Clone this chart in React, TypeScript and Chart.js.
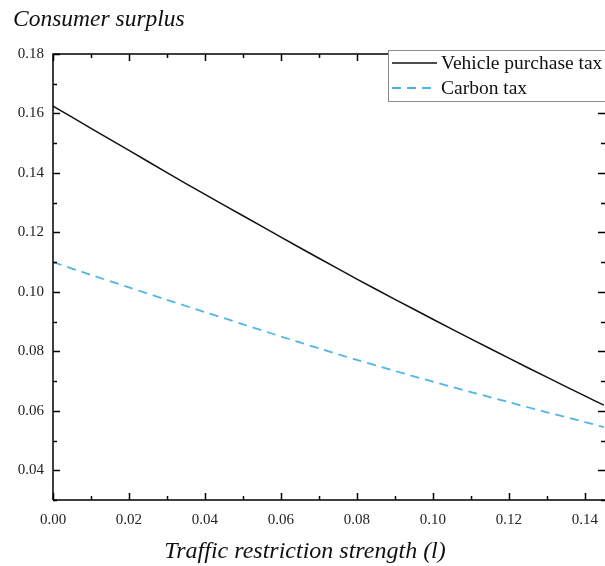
import React, { useEffect, useRef } from "react";
import { Chart, registerables } from "chart.js";

Chart.register(...registerables);

const xValues = [0, 0.01, 0.02, 0.03, 0.04, 0.05, 0.06, 0.07, 0.08, 0.09, 0.1, 0.11, 0.12, 0.13, 0.14, 0.145];
const vehicleTax = [0.1625, 0.155, 0.1476, 0.1401, 0.1328, 0.1256, 0.1184, 0.1113, 0.1043, 0.0975, 0.0908, 0.0842, 0.0777, 0.0713, 0.065, 0.0619];
const carbonTax = [0.11, 0.1057, 0.1015, 0.0973, 0.0932, 0.0891, 0.085, 0.081, 0.0771, 0.0734, 0.0698, 0.0663, 0.0629, 0.0595, 0.0562, 0.0545];

const xTickValues = [0, 0.02, 0.04, 0.06, 0.08, 0.1, 0.12, 0.14];
const yTickValues = [0.04, 0.06, 0.08, 0.1, 0.12, 0.14, 0.16, 0.18];

const seriesLabels = ["Vehicle purchase tax", "Carbon tax"];
const yTitle = "Consumer surplus";
const xTitle = "Traffic restriction strength (l)";

const X_MIN = 0;
const X_MAX = 0.1453;
const Y_MIN = 0.03;
const Y_MAX = 0.18;
const BLUE = "#4fb6e6";
const FONT = "'Liberation Serif', 'Times New Roman', serif";

const framePlugin = {
  id: "frameTicks",
  afterDatasetsDraw(chart: any) {
    const { ctx, chartArea, scales } = chart;
    const { left, right, top, bottom } = chartArea;
    const xs = scales.x;
    const ys = scales.y;
    ctx.save();
    ctx.strokeStyle = "#000";
    ctx.lineWidth = 1.5;
    ctx.beginPath();
    ctx.moveTo(left, bottom);
    ctx.lineTo(left, top);
    ctx.lineTo(right + 2, top);
    ctx.moveTo(left, bottom);
    ctx.lineTo(right + 2, bottom);
    ctx.stroke();

    ctx.beginPath();
    for (let i = 0; i <= 15; i++) {
      const v = i * 0.01;
      if (v > X_MAX) break;
      const px = Math.round(xs.getPixelForValue(v)) + 0.5;
      const len = i % 2 === 0 ? 7 : 4;
      ctx.moveTo(px, bottom);
      ctx.lineTo(px, bottom - len);
      ctx.moveTo(px, top);
      ctx.lineTo(px, top + len);
    }
    for (let i = 3; i <= 18; i++) {
      const v = i * 0.01;
      const py = Math.round(ys.getPixelForValue(v)) + 0.5;
      const len = i % 2 === 0 ? 7 : 4;
      ctx.moveTo(left, py);
      ctx.lineTo(left + len, py);
      ctx.moveTo(right, py);
      ctx.lineTo(right - len, py);
    }
    ctx.stroke();
    ctx.restore();
  },
  afterDraw(chart: any) {
    const { ctx, chartArea } = chart;
    const { bottom } = chartArea;
    ctx.save();
    ctx.fillStyle = "#111";
    ctx.font = `italic 23.5px ${FONT}`;
    ctx.textAlign = "left";
    ctx.textBaseline = "alphabetic";
    ctx.fillText(yTitle, 13, 26);
    ctx.font = `italic 24px ${FONT}`;
    ctx.textAlign = "center";
    ctx.fillText(xTitle, 305, bottom + 58);

    // Legend
    const bx = 388.5, by = 50.5, bw = 230, bh = 51;
    ctx.fillStyle = "#fff";
    ctx.fillRect(bx, by, bw, bh);
    ctx.strokeStyle = "#8a8a8a";
    ctx.lineWidth = 1;
    ctx.strokeRect(bx, by, bw, bh);
    const ds = chart.data.datasets;
    const rows = [63, 88];
    ctx.font = `19.5px ${FONT}`;
    ctx.textAlign = "left";
    ctx.textBaseline = "middle";
    ds.forEach((d: any, i: number) => {
      ctx.beginPath();
      ctx.strokeStyle = d.borderColor;
      ctx.lineWidth = d.borderWidth;
      ctx.setLineDash(d.borderDash || []);
      ctx.moveTo(392, rows[i]);
      ctx.lineTo(437, rows[i]);
      ctx.stroke();
      ctx.setLineDash([]);
      ctx.fillStyle = "#111";
      ctx.fillText(d.label, 441, rows[i] + 1);
    });
    ctx.restore();
  },
};

export default function App() {
  const ref = useRef<HTMLCanvasElement | null>(null);
  useEffect(() => {
    if (!ref.current) return;
    Chart.defaults.font.family = FONT;
    const chart = new Chart(ref.current, {
      type: "line",
      data: {
        datasets: [
          {
            label: seriesLabels[0],
            data: xValues.map((x, i) => ({ x, y: vehicleTax[i] })),
            borderColor: "#111",
            borderWidth: 1.5,
            pointRadius: 0,
            tension: 0.3,
          },
          {
            label: seriesLabels[1],
            data: xValues.map((x, i) => ({ x, y: carbonTax[i] })),
            borderColor: BLUE,
            borderWidth: 1.8,
            borderDash: [9, 6],
            pointRadius: 0,
            tension: 0.3,
          },
        ],
      },
      options: {
        responsive: false,
        animation: false,
        layout: { padding: { top: 54, left: 0, right: 0, bottom: 0 } },
        plugins: { legend: { display: false }, tooltip: { enabled: false }, title: { display: false } },
        scales: {
          x: {
            type: "linear",
            min: X_MIN,
            max: X_MAX,
            grid: { display: false, drawTicks: false },
            border: { display: false },
            afterBuildTicks: (s: any) => {
              s.ticks = xTickValues.map((value) => ({ value }));
            },
            afterFit: (s: any) => {
              s.height = 66;
              s.paddingLeft = 0;
              s.paddingRight = 0;
            },
            ticks: {
              autoSkip: false,
              maxRotation: 0,
              padding: 11,
              color: "#222",
              font: { size: 15, family: FONT },
              callback: (v: any) => Number(v).toFixed(2),
            },
          },
          y: {
            min: Y_MIN,
            max: Y_MAX,
            grid: { display: false, drawTicks: false },
            border: { display: false },
            afterBuildTicks: (s: any) => {
              s.ticks = yTickValues.map((value) => ({ value }));
            },
            afterFit: (s: any) => {
              s.width = 53;
              s.paddingTop = 0;
              s.paddingBottom = 0;
            },
            ticks: {
              autoSkip: false,
              padding: 9,
              color: "#222",
              font: { size: 15, family: FONT },
              callback: (v: any) => Number(v).toFixed(2),
            },
          },
        },
      },
      plugins: [framePlugin],
    });
    return () => chart.destroy();
  }, []);
  return (
    <div style={{ position: "absolute", left: 0, top: 0, width: 605, height: 566, background: "#fff" }}>
      <canvas ref={ref} width={605} height={566} style={{ display: "block" }} />
    </div>
  );
}
